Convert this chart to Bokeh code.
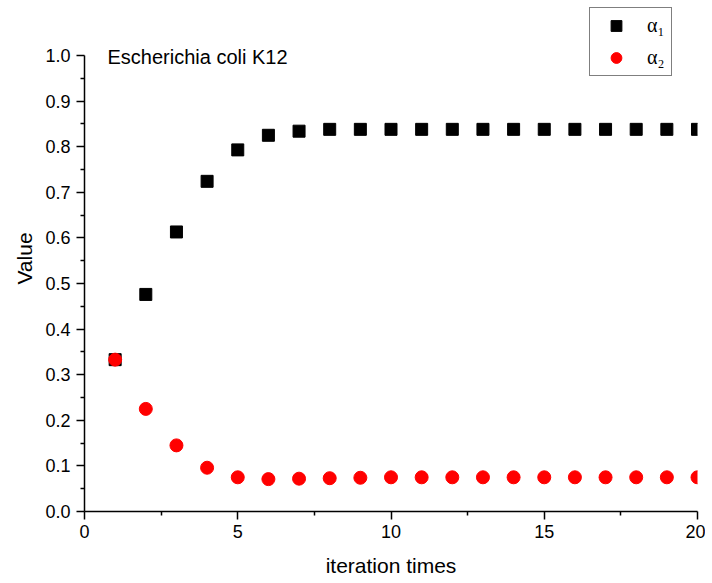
from bokeh.plotting import figure
from bokeh.models import FixedTicker, Range1d, Legend, LegendItem, Label, CustomJSTickFormatter
from bokeh.embed import file_html
from bokeh.resources import INLINE

iterations = list(range(1, 21))
alpha1 = [0.333, 0.476, 0.613, 0.724, 0.793, 0.825, 0.834, 0.838, 0.838, 0.838,
          0.838, 0.838, 0.838, 0.838, 0.838, 0.838, 0.838, 0.838, 0.838, 0.838]
alpha2 = [0.333, 0.225, 0.145, 0.096, 0.075, 0.071, 0.072, 0.073, 0.074, 0.075,
          0.075, 0.075, 0.075, 0.075, 0.075, 0.075, 0.075, 0.075, 0.075, 0.075]
x_ticks = [0, 5, 10, 15, 20]
x_minor = [2.5, 7.5, 12.5, 17.5]
y_ticks = [round(i * 0.1, 1) for i in range(11)]
y_minor = [round(0.05 + i * 0.1, 2) for i in range(10)]

# frame extends above 1.0 so the legend and title are not clipped; axis line is bounded
p = figure(width=705, height=582, output_backend="svg", toolbar_location=None,
           x_range=Range1d(0, 20), y_range=Range1d(0, 1.1096),
           min_border_left=84, min_border_right=8, min_border_top=5, min_border_bottom=71)
p.xgrid.visible = False
p.ygrid.visible = False
p.outline_line_color = None
p.background_fill_color = "white"
p.border_fill_color = "white"

r1 = p.scatter(iterations, alpha1, marker="square", size=12, color="black")
r2 = p.scatter(iterations, alpha2, marker="circle", size=13, color="#ff0000")

for ax in (p.xaxis[0], p.yaxis[0]):
    ax.axis_line_width = 1.5
    ax.major_tick_line_width = 1.5
    ax.minor_tick_line_width = 1.5
    ax.major_tick_in = 0
    ax.major_tick_out = 8
    ax.minor_tick_in = 0
    ax.minor_tick_out = 4
    ax.major_label_text_font = "Liberation Sans"
    ax.major_label_text_font_size = "18px"
    ax.major_label_text_color = "black"
    ax.axis_label_text_font = "Liberation Sans"
    ax.axis_label_text_font_size = "21px"
    ax.axis_label_text_font_style = "normal"
    ax.axis_label_text_color = "black"

p.xaxis[0].ticker = FixedTicker(ticks=x_ticks, minor_ticks=x_minor)
p.yaxis[0].ticker = FixedTicker(ticks=y_ticks, minor_ticks=y_minor)
p.yaxis[0].bounds = (0, 1.0)
p.yaxis[0].formatter = CustomJSTickFormatter(code="return tick.toFixed(1);")
p.xaxis[0].axis_label = "iteration times"
p.yaxis[0].axis_label = "Value"
p.xaxis[0].major_label_standoff = 5
p.yaxis[0].major_label_standoff = 6
p.xaxis[0].axis_label_standoff = 13
p.yaxis[0].axis_label_standoff = 6

p.add_layout(Label(x=0.75, y=0.996, text="Escherichia coli K12", text_font="Liberation Sans",
                   text_font_size="20px", text_baseline="middle", text_color="black"))

legend = Legend(items=[LegendItem(label="α₁", renderers=[r1]),
                       LegendItem(label="α₂", renderers=[r2])],
                location=(505, 435), orientation="vertical",
                label_text_font="Liberation Serif", label_text_font_size="20px",
                label_text_color="black",
                glyph_width=44, glyph_height=27, label_height=24, label_standoff=9,
                padding=4, spacing=5, margin=0,
                border_line_color="black", border_line_width=1,
                background_fill_alpha=1.0)
p.add_layout(legend, "center")

open("out.html", "w").write(file_html(p, INLINE))
